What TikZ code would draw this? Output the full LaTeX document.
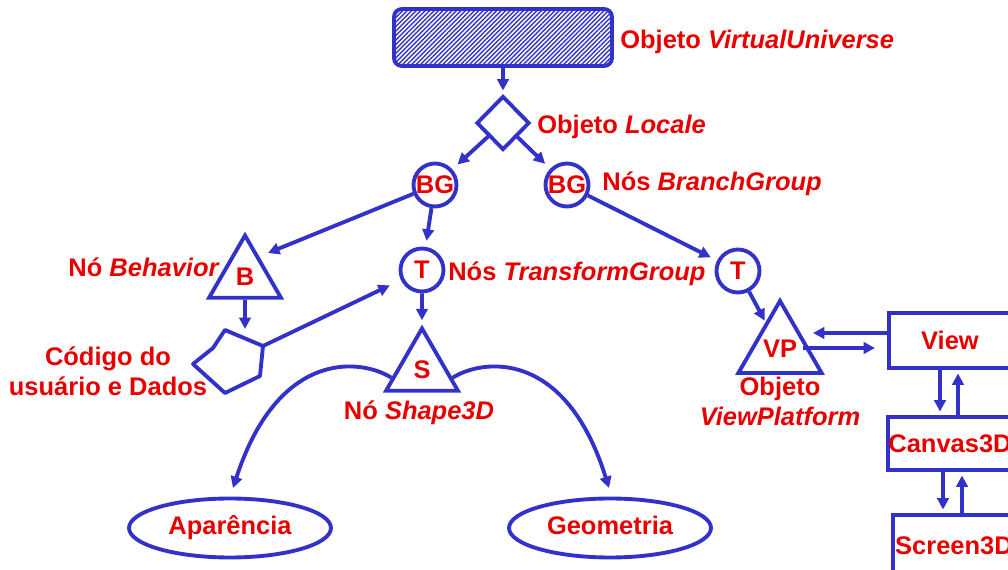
\documentclass[tikz,border=0pt]{standalone}
\usepackage{fontspec}
\setmainfont{Liberation Sans}
\usetikzlibrary{arrows.meta,shapes.geometric,patterns.meta,calc}
\definecolor{lineblue}{RGB}{50,50,200}
\definecolor{textred}{RGB}{232,0,0}
\begin{document}
\begin{tikzpicture}[x=0.02cm,y=-0.02cm,
  font=\fontsize{14.5}{17}\selectfont\bfseries,
  every node/.style={text=textred},
  wire/.style={draw=lineblue,line width=2.2pt,line join=round},
  arr/.style={wire,-{Triangle[length=6.5pt,width=6.5pt]},shorten >=2pt},
  ring/.style={circle,draw=lineblue,line width=2.2pt,minimum size=0.86cm,inner sep=0pt},
  tri/.style={regular polygon,regular polygon sides=3,draw=lineblue,line width=2.2pt,
              inner sep=0pt,minimum size=1.66cm},
  box/.style={rectangle,draw=lineblue,line width=2.2pt,inner sep=0pt,minimum width=2.44cm},
  oval/.style={ellipse,draw=lineblue,line width=2.2pt,inner sep=0pt,
               minimum width=4.04cm,minimum height=1.18cm,
               text height=0.72em,text depth=0em},
  lbl/.style={inner sep=0pt}]

\clip (0,0) rectangle (1008,570);

% scene graph nodes
\node[box,rounded corners=4.5pt,minimum width=4.36cm,minimum height=1.14cm,
      pattern={Lines[angle=45,distance=1.8pt,line width=0.8pt]},pattern color=lineblue]
      (vu) at (503,37.5) {};
\node[diamond,draw=lineblue,line width=2.2pt,inner sep=0pt,aspect=1,
      minimum width=1.06cm,minimum height=1.08cm] (loc) at (503,123) {};
\node[ring] (bg1) at (435,185) {BG};
\node[ring] (bg2) at (567,185) {BG};
\node[ring] (t1)  at (422,270) {T};
\node[ring] (t2)  at (738,271) {T};
\node[tri]  (beh) at (245,277) {B};
\node[tri]  (shp) at (422,370) {S};
\node[tri]  (vp)  at (780,349) {VP};
\node[oval] (ap)  at (230,528) {Aparência};
\node[oval] (geo) at (610,528) {Geometria};

% view side
\node[box,minimum height=1.1cm]  (view)   at (950,340.5) {View};
\node[box,minimum height=1.06cm] (canvas) at (950,443.5) {Canvas3D};
\node[box,minimum height=1.24cm] (screen) at (954,546)   {Screen3D};

% user code shape
\coordinate (p1) at (225,330);
\coordinate (p2) at (263,346);
\coordinate (p3) at (260,376);
\coordinate (p4) at (225,393);
\coordinate (p5) at (193,364);
\coordinate (p6) at (213,348);
\draw[wire] (p1) -- (p2) -- (p3) -- (p4) -- (p5) -- (p6) -- cycle;

% labels
\node[lbl,anchor=base west] at (620,49)  {Objeto \textit{VirtualUniverse}};
\node[lbl,anchor=base west] at (537,134) {Objeto \textit{Locale}};
\node[lbl,anchor=base west] at (602,191) {Nós \textit{BranchGroup}};
\node[lbl,anchor=base west] at (448,281) {Nós \textit{TransformGroup}};
\node[lbl,anchor=base east] at (220,277) {Nó \textit{Behavior}};
\node[lbl,align=center]     at (108,371) {Código do\\usuário e Dados};
\node[lbl]                  at (419,413) {Nó \textit{Shape3D}};
\node[lbl,align=center]     at (780,401) {Objeto\\\textit{ViewPlatform}};

% connectors
\coordinate (codetop) at (245,329);
\coordinate (bhit) at (268,253);
\coordinate (sL) at ($(shp.corner 1)!0.78!(shp.corner 2)$);
\coordinate (sR) at ($(shp.corner 1)!0.78!(shp.corner 3)$);
\coordinate (apTip) at (233,488);
\coordinate (geoTip) at (609,488);
\coordinate (vpIn) at (813,333);
\coordinate (vpOut) at (803,348);
\coordinate (viewIn) at (875,348);

\draw[arr] (vu) -- (loc);
\draw[arr,shorten >=4pt] (loc) -- (bg1);
\draw[arr,shorten >=4pt] (loc) -- (bg2);
\draw[arr,shorten >=0pt] (bg1) -- (bhit);
\draw[arr,shorten >=3.5pt] (bg1) -- (t1);
\draw[arr,shorten >=4pt] (bg2) -- (t2);
\draw[arr,shorten >=1pt] (t2) -- (vp);
\draw[arr,shorten >=0pt] (beh.south) -- (codetop);
\draw[arr,shorten >=7pt] (p2) -- (t1);
\draw[arr,shorten >=2.5pt] (t1) -- (shp);
\draw[arr,shorten >=0pt] (sL) .. controls (360,358) and (278,350) .. (apTip);
\draw[arr,shorten >=0pt] (sR) .. controls (484,358) and (566,350) .. (geoTip);
\draw[arr,shorten >=0pt] (view.west |- vpIn) -- (vpIn);
\draw[arr,shorten >=0pt] (vpOut) -- (viewIn);
\draw[arr] ([xshift=-0.2cm]view.south) -- ([xshift=-0.2cm]canvas.north);
\draw[arr] ([xshift=0.16cm]canvas.north) -- ([xshift=0.16cm]view.south);
\draw[arr] ([xshift=-0.14cm]canvas.south) -- ([xshift=-0.14cm]canvas.south |- screen.north);
\draw[arr] ([xshift=0.24cm]canvas.south |- screen.north) -- ([xshift=0.24cm]canvas.south);
\end{tikzpicture}
\end{document}
